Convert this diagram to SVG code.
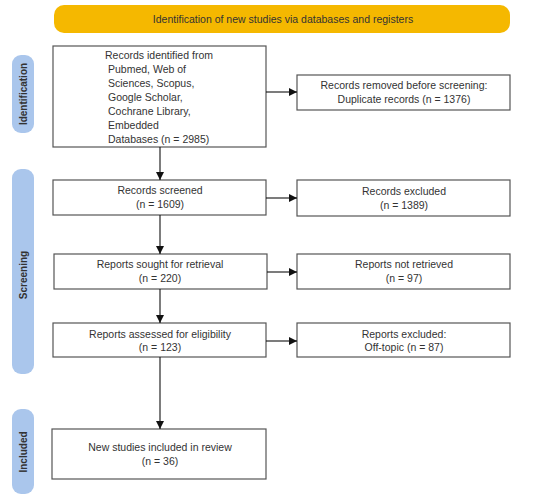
<svg xmlns="http://www.w3.org/2000/svg" width="550" height="500" viewBox="0 0 550 500">
<defs>
<style>
.box{fill:#fff;stroke:#555;stroke-width:1.2}
.t{font-family:"Liberation Sans",Arial,sans-serif;font-size:10.5px;fill:#333;text-anchor:middle}
.tl{font-family:"Liberation Sans",Arial,sans-serif;font-size:10.5px;fill:#333}
.side{fill:#aac6ec}
.st{font-family:"Liberation Sans",Arial,sans-serif;font-size:10px;fill:#333;text-anchor:middle;font-weight:bold}
.c{stroke:#111;stroke-width:1.1;fill:none;marker-end:url(#ah)}
</style>
<marker id="ah" markerWidth="8" markerHeight="8" refX="8" refY="4" orient="auto" markerUnits="userSpaceOnUse">
<path d="M0,0 L8,4 L0,8 Z" fill="#111"/>
</marker>
</defs>
<rect width="550" height="500" fill="#fff"/>
<g id="banner">
<rect x="54" y="5" width="456" height="28" rx="10" fill="#f5b800"/>
<text class="t" x="283" y="23">Identification of new studies via databases and registers</text>
</g>
<g id="side-identification">
<rect class="side" x="12" y="55" width="22" height="78" rx="9"/>
<text class="st" transform="translate(27,94) rotate(-90)">Identification</text>
</g>
<g id="side-screening">
<rect class="side" x="12" y="169" width="22" height="205" rx="9"/>
<text class="st" transform="translate(27,275) rotate(-90)">Screening</text>
</g>
<g id="side-included">
<rect class="side" x="12" y="409" width="22" height="85" rx="9"/>
<text class="st" transform="translate(27,452) rotate(-90)">Included</text>
</g>
<g id="records-identified">
<rect class="box" x="53" y="46" width="213" height="101"/>
<text class="tl" x="105" y="59">Records identified from</text>
<text class="tl" x="108" y="73">Pubmed, Web of</text>
<text class="tl" x="108" y="87">Sciences, Scopus,</text>
<text class="tl" x="108" y="101">Google Scholar,</text>
<text class="tl" x="108" y="115">Cochrane Library,</text>
<text class="tl" x="108" y="129">Embedded</text>
<text class="tl" x="108" y="143">Databases (n = 2985)</text>
</g>
<g id="records-removed">
<rect class="box" x="297" y="75" width="213" height="35"/>
<text class="t" x="404" y="89">Records removed before screening:</text>
<text class="t" x="404" y="103">Duplicate records (n = 1376)</text>
</g>
<g id="records-screened">
<rect class="box" x="53" y="180" width="213" height="35"/>
<text class="t" x="160" y="194">Records screened</text>
<text class="t" x="160" y="208">(n = 1609)</text>
</g>
<g id="records-excluded">
<rect class="box" x="297" y="180" width="213" height="36"/>
<text class="t" x="404" y="195">Records excluded</text>
<text class="t" x="404" y="209">(n = 1389)</text>
</g>
<g id="reports-sought">
<rect class="box" x="54" y="254" width="213" height="35"/>
<text class="t" x="160" y="268">Reports sought for retrieval</text>
<text class="t" x="160" y="282">(n = 220)</text>
</g>
<g id="reports-not-retrieved">
<rect class="box" x="297" y="254" width="213" height="35"/>
<text class="t" x="404" y="268">Reports not retrieved</text>
<text class="t" x="404" y="282">(n = 97)</text>
</g>
<g id="reports-assessed">
<rect class="box" x="53" y="323" width="213" height="34"/>
<text class="t" x="160" y="338">Reports assessed for eligibility</text>
<text class="t" x="160" y="351">(n = 123)</text>
</g>
<g id="reports-excluded">
<rect class="box" x="297" y="323" width="213" height="34"/>
<text class="t" x="404" y="338">Reports excluded:</text>
<text class="t" x="404" y="351">Off-topic (n = 87)</text>
</g>
<g id="included">
<rect class="box" x="52" y="429" width="214" height="50"/>
<text class="t" x="160" y="451">New studies included in review</text>
<text class="t" x="160" y="465">(n = 36)</text>
</g>
<g id="connectors">
<path class="c" d="M266,92 H297"/>
<path class="c" d="M160,147 V180"/>
<path class="c" d="M266,198 H297"/>
<path class="c" d="M160,215 V254"/>
<path class="c" d="M267,272 H297"/>
<path class="c" d="M160,289 V323"/>
<path class="c" d="M266,341 H297"/>
<path class="c" d="M160,357 V429"/>
</g>
</svg>
